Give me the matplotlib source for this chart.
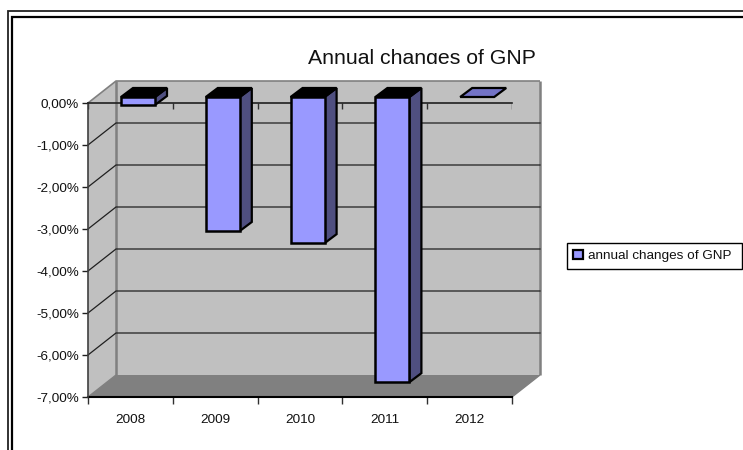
import matplotlib
matplotlib.use("Agg")
import matplotlib.pyplot as plt
from matplotlib.lines import Line2D
from matplotlib.patches import Patch, Polygon, Rectangle
from matplotlib.ticker import FuncFormatter

years = ["2008", "2009", "2010", "2011", "2012"]
changes = [-0.19, -3.19, -3.48, -6.79, 0.0]
series_name = "annual changes of GNP"
chart_title = "Annual changes of GNP"

W, H = 743, 450
FRONT = "#9999ff"
SIDE = "#4f4f80"
WALL = "#c0c0c0"
FLOOR = "#808080"

plt.rcParams["font.family"] = ["Liberation Sans", "DejaVu Sans"]

fig = plt.figure(figsize=(W / 100, H / 100), dpi=100)
# front plane of the fake 3D box
left, right, top, bottom = 88, 512, 103, 397
ax = fig.add_axes([left / W, 1 - bottom / H, (right - left) / W, (bottom - top) / H])
ax.set_xlim(0, len(years))
ax.set_ylim(-7, 0)
ax.patch.set_visible(False)

# pixel sizes of the depth offsets, converted to data units
px_x = len(years) / (right - left)
px_y = 7 / (bottom - top)
depth_x, depth_y = 28 * px_x, 22 * px_y


def poly(points, color, edge="none", lw=0.0, z=1.0):
    ax.add_patch(Polygon(points, closed=True, facecolor=color, edgecolor=edge, linewidth=lw,
                         zorder=z, clip_on=False, joinstyle="miter"))


n = len(years)
poly([(0, 0), (depth_x, depth_y), (depth_x, depth_y - 7), (0, -7)], WALL)
poly([(depth_x, depth_y), (n + depth_x, depth_y), (n + depth_x, depth_y - 7), (depth_x, depth_y - 7)], WALL)
poly([(0, -7), (depth_x, depth_y - 7), (n + depth_x, depth_y - 7), (n, -7)], FLOOR)

# wall edges
edge_kw = dict(color=FLOOR, zorder=1.2, clip_on=False, solid_capstyle="butt")
ax.plot([0, depth_x, n + depth_x], [0, depth_y, depth_y], lw=1.2, **edge_kw)
ax.plot([n + depth_x, n + depth_x], [depth_y, depth_y - 7], lw=1.8, **edge_kw)
ax.plot([depth_x, depth_x], [depth_y, depth_y - 7], lw=1.8, **edge_kw)
ax.plot([n + depth_x, n], [depth_y - 7, -7], lw=1.0, **edge_kw)
ax.plot([0, depth_x], [-7, depth_y - 7], lw=1.0, **edge_kw)

# gridlines run along the side wall and across the back wall
for v in range(-6, 0):
    ax.plot([0, depth_x, n + depth_x], [v, v + depth_y, v + depth_y], color="#202020", lw=0.9,
            zorder=1.5, clip_on=False)

# bars
bar_w = 34 * px_x
shift_x, shift_y = 7.6 * px_x, 6 * px_y
bar_dx, bar_dy = 12 * px_x, 9 * px_y
for i, val in enumerate(changes):
    x0 = i + 0.5 - bar_w / 2 + shift_x
    x1 = x0 + bar_w
    y0 = shift_y
    y1 = val + shift_y
    if val == 0:
        poly([(x0, y0), (x1, y0), (x1 + bar_dx, y0 + bar_dy), (x0 + bar_dx, y0 + bar_dy)],
             "#7373c6", "black", 1.6, 3)
        continue
    poly([(x1, y0), (x1 + bar_dx, y0 + bar_dy), (x1 + bar_dx, y1 + bar_dy), (x1, y1)],
         SIDE, "black", 1.6, 3)
    poly([(x0, y0), (x1, y0), (x1 + bar_dx, y0 + bar_dy), (x0 + bar_dx, y0 + bar_dy)],
         "black", "black", 1.6, 3)
    poly([(x0, y0), (x1, y0), (x1, y1), (x0, y1)], FRONT, "black", 1.8, 3.1)

# axes
for side in ("right", "bottom"):
    ax.spines[side].set_visible(False)
ax.spines["top"].set_color("#202020")
ax.spines["top"].set_linewidth(1.2)
ax.spines["left"].set_color("#404040")
ax.spines["left"].set_linewidth(1.2)
ax.plot([0, n], [-7, -7], color="black", lw=1.5, zorder=2.5, clip_on=False)

ax.set_yticks(range(-7, 1))
ax.yaxis.set_major_formatter(FuncFormatter(lambda v, _: f"{v:.2f}%".replace(".", ",")))
ax.tick_params(axis="y", length=4, width=1, color="#202020", pad=2.5, labelsize=9.7, labelcolor="#111111")

ax.set_xticks(range(n + 1))
ax.set_xticklabels([])
ax.set_xticks([i + 0.5 for i in range(n)], labels=years, minor=True)
ax.tick_params(axis="x", which="major", length=5, width=1, color="#303030")
ax.tick_params(axis="x", which="minor", length=0, pad=12.5, labelsize=9.7, labelcolor="#111111")
ax.vlines(range(n + 1), -5.5 * px_y, 0, color="#303030", lw=1.0, zorder=2.4)

# the title box is too short, so descenders are cut off
title = fig.text(421.5 / W, 1 - 63.5 / H, chart_title, ha="center", va="baseline", fontsize=15.3, color="#111111")
title.set_clip_path(Rectangle((0, 1 - 64 / H), 1, 64 / H, transform=fig.transFigure))
title.set_clip_on(True)

# legend box has more room on the right than the legend would give it
fig.add_artist(Rectangle((566.5 / W, 1 - 269 / H), 175.5 / W, 26 / H, transform=fig.transFigure,
                         facecolor="white", edgecolor="black", linewidth=1.0))
fig.legend(handles=[Patch(facecolor=FRONT, edgecolor="black", linewidth=1.6, label=series_name)],
           loc="center left", bbox_to_anchor=(566.5 / W, 1 - 256 / H), frameon=False,
           fontsize=9.7, handlelength=0.72, handleheight=0.72,
           handletextpad=0.38, borderpad=0.5, borderaxespad=0, labelcolor="#111111")

# double page border, open at the right and bottom
def page_line(xs, ys, lw, color="black"):
    fig.add_artist(Line2D([x / W for x in xs], [1 - y / H for y in ys], color=color, lw=lw,
                          solid_capstyle="butt", solid_joinstyle="miter"))


page_line([8, 8, W], [H, 11, 11], 1.3, "#222222")
page_line([12, 12, W], [H, 17, 17], 1.6)

fig.savefig("out.png", dpi=100)
